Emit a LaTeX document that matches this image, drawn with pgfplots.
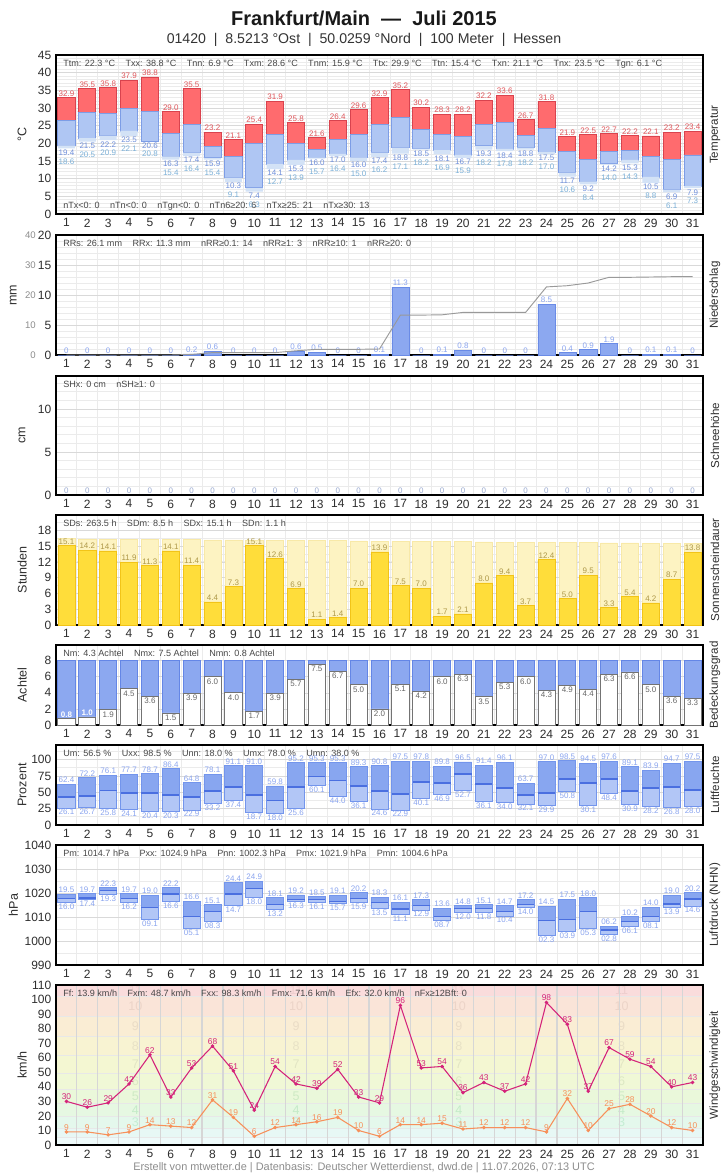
\documentclass[border=0pt]{standalone}
\usepackage{fontspec}
\setmainfont{Liberation Sans}
\usepackage{pgfplots}
\usepackage{pgfplotstable}
\pgfplotsset{compat=1.18}

\definecolor{tred}{HTML}{FF6B6E}
\definecolor{tredb}{HTML}{D9434E}
\definecolor{tblue}{HTML}{AFC6F3}
\definecolor{tblueb}{HTML}{7D9DE6}
\definecolor{tgl}{HTML}{D3E2F6}
\definecolor{txlab}{HTML}{E0565B}
\definecolor{tnlab}{HTML}{6F8FDB}
\definecolor{tglab}{HTML}{7BB0D8}
\definecolor{rrbar}{HTML}{8CA8F0}
\definecolor{rrbord}{HTML}{6A8BE6}
\definecolor{rrlab}{HTML}{8AA4EE}
\definecolor{snlab}{HTML}{9AAAD0}
\definecolor{sunbar}{HTML}{FFDD3A}
\definecolor{sunbord}{HTML}{F2C418}
\definecolor{sunbg}{HTML}{FDF3C2}
\definecolor{sunbgb}{HTML}{F8E9A8}
\definecolor{sunlab}{HTML}{AE9848}
\definecolor{nbar}{HTML}{8CA8F0}
\definecolor{nbord}{HTML}{6486E6}
\definecolor{ulo}{HTML}{B2C6F6}
\definecolor{uhi}{HTML}{88A6F0}
\definecolor{umean}{HTML}{4A6FE0}
\definecolor{ubord}{HTML}{7395EC}
\definecolor{ulab}{HTML}{8AA4EE}
\definecolor{fxc}{HTML}{D4237A}
\definecolor{ffc}{HTML}{F7905A}
\definecolor{bf0}{HTML}{F2FCFC}
\definecolor{bf1}{HTML}{EEFAFA}
\definecolor{bf2}{HTML}{E7F8F5}
\definecolor{bf3}{HTML}{E4F8EC}
\definecolor{bf4}{HTML}{E6F8E2}
\definecolor{bf5}{HTML}{EAF8DA}
\definecolor{bf6}{HTML}{F0F8D6}
\definecolor{bf7}{HTML}{F4F7D2}
\definecolor{bf8}{HTML}{F8F3D2}
\definecolor{bf9}{HTML}{FAEDD4}
\definecolor{bf10}{HTML}{FAE4D8}
\definecolor{bf11}{HTML}{FADCDC}
\definecolor{bn3}{HTML}{C4EDD3}
\definecolor{bn4}{HTML}{C4EBC8}
\definecolor{bn5}{HTML}{CEEAC4}
\definecolor{bn6}{HTML}{DCE8C4}
\definecolor{bn7}{HTML}{E2E5C4}
\definecolor{bn8}{HTML}{E8E2C6}
\definecolor{bn9}{HTML}{EADCC6}
\definecolor{bn10}{HTML}{ECD4C8}
\definecolor{bn11}{HTML}{EECECE}

\pgfplotstableread{
d tx tm tn tg
1 32.9 26.4 19.4 18.6
2 35.5 28.8 21.5 20.5
3 35.8 28.5 22.2 20.9
4 37.9 29.9 23.5 22.1
5 38.8 29.0 20.6 20.8
6 29.0 22.7 16.3 15.4
7 35.5 25.4 17.4 16.4
8 23.2 19.2 15.9 15.4
9 21.1 16.4 10.3 9.1
10 25.4 19.9 7.4 6.3
11 31.9 22.6 14.1 12.7
12 25.8 20.0 15.3 13.9
13 21.6 18.3 16.0 15.7
14 26.4 21.2 17.0 16.4
15 29.6 22.6 16.0 15.0
16 32.9 25.4 17.4 16.2
17 35.2 27.4 18.8 17.1
18 30.2 24.0 18.5 18.2
19 28.3 22.6 18.1 16.9
20 28.2 22.0 16.7 15.9
21 32.2 25.4 19.3 18.2
22 33.6 26.0 18.4 17.8
23 26.7 22.3 18.8 18.2
24 31.8 24.3 17.5 17.0
25 21.9 17.6 11.7 10.6
26 22.5 15.5 9.2 8.4
27 22.7 17.6 14.2 14.0
28 22.2 18.0 15.3 14.3
29 22.1 16.3 10.5 8.8
30 23.2 15.4 6.9 6.1
31 23.4 16.7 7.9 7.3
}\Ttab

\pgfplotstableread{
d rr cum
1 0 0
2 0 0
3 0 0
4 0 0
5 0 0
6 0 0
7 0.2 0.2
8 0.6 0.8
9 0 0.8
10 0 0.8
11 0 0.8
12 0.6 1.4
13 0.5 1.9
14 0 1.9
15 0 1.9
16 0.1 2.0
17 11.3 13.3
18 0 13.3
19 0.1 13.4
20 0.8 14.2
21 0 14.2
22 0 14.2
23 0 14.2
24 8.5 22.7
25 0.4 23.1
26 0.9 24.0
27 1.9 25.9
28 0 25.9
29 0.1 26.0
30 0.1 26.1
31 0 26.1
}\Rtab

\pgfplotstableread{
d s
1 0
2 0
3 0
4 0
5 0
6 0
7 0
8 0
9 0
10 0
11 0
12 0
13 0
14 0
15 0
16 0
17 0
18 0
19 0
20 0
21 0
22 0
23 0
24 0
25 0
26 0
27 0
28 0
29 0
30 0
31 0
}\Stab

\pgfplotstableread{
d sd dl
1 15.1 16.40
2 14.2 16.37
3 14.1 16.34
4 11.9 16.31
5 11.3 16.28
6 14.1 16.25
7 11.4 16.22
8 4.4 16.19
9 7.3 16.16
10 15.1 16.13
11 12.6 16.10
12 6.9 16.07
13 1.1 16.04
14 1.4 16.01
15 7.0 15.98
16 13.9 15.95
17 7.5 15.92
18 7.0 15.89
19 1.7 15.86
20 2.1 15.83
21 8.0 15.80
22 9.4 15.77
23 3.7 15.74
24 12.4 15.71
25 5.0 15.68
26 9.5 15.65
27 3.3 15.62
28 5.4 15.59
29 4.2 15.56
30 8.7 15.53
31 13.8 15.50
}\SDtab

\pgfplotstableread{
d n top
1 0.8 8
2 1.0 8
3 1.9 8
4 4.5 8
5 3.6 8
6 1.5 8
7 3.9 8
8 6.0 8
9 4.0 8
10 1.7 8
11 3.9 8
12 5.7 8
13 7.5 8
14 6.7 8
15 5.0 8
16 2.0 8
17 5.1 8
18 4.2 8
19 6.0 8
20 6.3 8
21 3.5 8
22 5.3 8
23 6.0 8
24 4.3 8
25 4.9 8
26 4.4 8
27 6.3 8
28 6.6 8
29 5.0 8
30 3.6 8
31 3.3 8
}\Ntab

\pgfplotstableread{
d ux un um
1 62.4 26.1 42.9
2 72.2 26.7 44.4
3 76.1 25.8 53.1
4 77.7 24.1 49.0
5 78.7 20.4 49.0
6 86.4 20.3 45.9
7 64.8 22.9 42.9
8 78.1 33.2 52.0
9 91.1 37.4 58.2
10 91.0 18.7 45.9
11 59.8 18.0 38.0
12 95.2 25.6 58.2
13 95.3 60.1 74.5
14 95.3 44.0 68.4
15 89.3 36.1 59.7
16 90.8 24.6 52.0
17 97.5 22.9 47.4
18 97.8 40.1 65.8
19 89.8 46.9 64.3
20 96.5 52.7 78.0
21 91.4 36.1 62.8
22 96.1 34.0 56.6
23 63.7 32.1 45.9
24 97.0 29.9 49.0
25 98.5 50.8 70.4
26 94.5 30.1 64.3
27 97.6 48.4 70.4
28 89.1 30.9 52.0
29 83.9 28.2 56.6
30 94.7 26.8 58.2
31 97.5 28.0 53.6
}\Utab

\pgfplotstableread{
d px pn pm pxl pnl
1 1019.5 1016.0 1017.8 19.5 16.0
2 1019.7 1017.4 1017.9 19.7 17.4
3 1022.3 1019.3 1021.0 22.3 19.3
4 1019.7 1016.2 1017.8 19.7 16.2
5 1019.0 1009.1 1014.0 19.0 09.1
6 1022.2 1016.6 1019.6 22.2 16.6
7 1016.6 1005.1 1010.1 16.6 05.1
8 1015.1 1008.3 1012.3 15.1 08.3
9 1024.4 1014.7 1019.6 24.4 14.7
10 1024.9 1018.0 1021.9 24.9 18.0
11 1018.1 1013.2 1015.3 18.1 13.2
12 1019.2 1016.3 1017.4 19.2 16.3
13 1018.5 1016.1 1017.4 18.5 16.1
14 1019.1 1015.7 1016.5 19.1 15.7
15 1020.2 1015.9 1017.8 20.2 15.9
16 1018.3 1013.5 1016.1 18.3 13.5
17 1016.1 1011.1 1013.3 16.1 11.1
18 1017.3 1012.9 1014.9 17.3 12.9
19 1013.6 1008.7 1010.1 13.6 08.7
20 1014.8 1012.0 1013.7 14.8 12.0
21 1015.1 1011.8 1013.7 15.1 11.8
22 1014.7 1010.4 1012.3 14.7 10.4
23 1017.2 1014.0 1015.3 17.2 14.0
24 1014.5 1002.3 1008.6 14.5 02.3
25 1017.5 1003.9 1009.0 17.5 03.9
26 1018.0 1005.3 1012.3 18.0 05.3
27 1006.2 1002.8 1004.6 06.2 02.8
28 1010.2 1006.1 1008.2 10.2 06.1
29 1014.0 1008.1 1010.3 14.0 08.1
30 1019.0 1013.9 1015.4 19.0 13.9
31 1020.2 1014.6 1017.5 20.2 14.6
}\Ptab

\pgfplotstableread{
d fx ff
1 30 9
2 26 9
3 29 7
4 42 9
5 62 14
6 33 13
7 53 12
8 68 31
9 51 19
10 24 6
11 54 12
12 42 14
13 39 16
14 52 19
15 33 10
16 29 6
17 96 14
18 53 14
19 54 15
20 36 11
21 43 12
22 37 12
23 42 12
24 98 9
25 83 32
26 37 10
27 67 25
28 59 28
29 54 20
30 40 12
31 43 10
}\Wtab

\newcommand\sg{\hspace{7.8pt}}

\pgfplotsset{
  /pgf/number format/assume math mode=true,
  base/.style={scale only axis, width=485.25pt, xmin=0.5, xmax=31.5, clip=false},
  pos/.style 2 args={at={(42pt,-#1)}, anchor=north west, height=#2},
  panel/.style={base,
    xtick={1,...,31}, minor xtick={1.5,2.5,...,30.5},
    xminorgrids=true, ymajorgrids=true,
    major tick length=0pt, minor tick length=0pt,
    axis line style={line width=0.8pt},
    major grid style={draw=black!15, line width=0.5pt},
    minor grid style={draw=black!8, line width=0.6pt},
    tick label style={font=\fontsize{9}{10}\selectfont, text=black!82},
  },
  ovl/.style={base, hide axis},
}
\tikzset{
  stat/.style={anchor=north west, font=\fontsize{6.8}{7.5}\selectfont, text=black!72, inner sep=0pt, xshift=5.3pt, yshift=-3.8pt},
  lab/.style={font=\fontsize{6}{7}\selectfont, inner sep=0.8pt},
  yl/.style={rotate=90, font=\fontsize{9.4}{10}\selectfont, text=black!82},
  yr/.style={rotate=90, font=\fontsize{8.7}{10}\selectfont, text=black!82},
  bfn/.style={font=\fontsize{9.4}{10}\selectfont},
  sec/.style={anchor=east, font=\fontsize{7.2}{8}\selectfont, text=black!45, inner sep=0pt, xshift=-15pt},
}

\begin{document}
\begin{tikzpicture}
\path[use as bounding box] (0,0) rectangle (546pt,-881.25pt);

% ---------------- Temperature
\begin{axis}[panel, pos={41.25pt}{119.25pt}, ymin=0, ymax=45, ytick={0,5,...,45},
  minor ytick={0,1,...,45}, yminorgrids=true, ybar stacked, bar width=0.82]
\addplot[draw=none, fill=none] table[x=d, y expr={min(\thisrow{tn},\thisrow{tg})}]{\Ttab};
\addplot[draw=none, fill=tgl] table[x=d, y expr={\thisrow{tn}-min(\thisrow{tn},\thisrow{tg})}]{\Ttab};
\addplot[draw=tblueb, fill=tblue, line width=0.6pt] table[x=d, y expr={\thisrow{tm}-\thisrow{tn}}]{\Ttab};
\addplot[draw=tredb, fill=tred, line width=0.6pt] table[x=d, y expr={\thisrow{tx}-\thisrow{tm}}]{\Ttab};
\end{axis}
\begin{axis}[ovl, pos={41.25pt}{119.25pt}, ymin=0, ymax=45]
\addplot[draw=none, mark=none, nodes near coords, point meta=explicit symbolic,
  nodes near coords style={lab, text=txlab, anchor=south}] table[x=d, y=tx, meta=tx]{\Ttab};
\addplot[draw=none, mark=none, nodes near coords, point meta=explicit symbolic,
  nodes near coords style={lab, text=tnlab, anchor=north}] table[x=d, y expr={min(\thisrow{tn},\thisrow{tg})}, meta=tn]{\Ttab};
\addplot[draw=none, mark=none, nodes near coords, point meta=explicit symbolic,
  nodes near coords style={lab, text=tglab, anchor=north, yshift=-6.6pt}] table[x=d, y expr={min(\thisrow{tn},\thisrow{tg})}, meta=tg]{\Ttab};
\node[stat] at (rel axis cs:0,1) {Ttm: 22.3 °C\sg Txx: 38.8 °C\sg Tnn: 6.9 °C\sg Txm: 28.6 °C\sg Tnm: 15.9 °C\sg Ttx: 29.9 °C\sg Ttn: 15.4 °C\sg Txn: 21.1 °C\sg Tnx: 23.5 °C\sg Tgn: 6.1 °C};
\node[stat, anchor=south west, yshift=6.3pt] at (rel axis cs:0,0) {nTx<0: 0\sg nTn<0: 0\sg nTgn<0: 0\sg nTn6≥20: 6\sg nTx≥25: 21\sg nTx≥30: 13};
\node[yl] at (rel axis cs:-0.0525,0.5) {°C};
\node[yr] at (rel axis cs:1.0185,0.5) {Temperatur};
\end{axis}

% ---------------- Precipitation
\begin{axis}[panel, pos={176.25pt}{90pt}, ymin=0, ymax=20, ytick={0,5,...,20},
  minor ytick={0,1,...,20}, yminorgrids=true, ybar, bar width=0.82, bar shift=0pt]
\addplot[draw=rrbord, fill=rrbar, nodes near coords, point meta=explicit symbolic,
  nodes near coords style={lab, text=rrlab, anchor=south}] table[x=d, y=rr, meta=rr]{\Rtab};
\end{axis}
\begin{axis}[ovl, pos={176.25pt}{90pt}, ymin=0, ymax=40]
\addplot[draw=black!40, line width=0.7pt, mark=none] table[x=d, y=cum]{\Rtab};
\node[sec] at (rel axis cs:0,0) {0};
\node[sec] at (rel axis cs:0,0.25) {10};
\node[sec] at (rel axis cs:0,0.5) {20};
\node[sec] at (rel axis cs:0,0.75) {30};
\node[sec] at (rel axis cs:0,1) {40};
\node[stat] at (rel axis cs:0,1) {RRs: 26.1 mm\sg RRx: 11.3 mm\sg nRR≥0.1: 14\sg nRR≥1: 3\sg nRR≥10: 1\sg nRR≥20: 0};
\node[yl] at (rel axis cs:-0.066,0.5) {mm};
\node[yr] at (rel axis cs:1.0185,0.5) {Niederschlag};
\end{axis}

% ---------------- Snow
\begin{axis}[panel, pos={282pt}{89.25pt}, ymin=0, ymax=13.84, ytick={0,5,10},
  minor ytick={0,1,...,13}, yminorgrids=true]
\addplot[draw=none, mark=none, nodes near coords, point meta=explicit symbolic,
  nodes near coords style={lab, text=snlab, anchor=south}] table[x=d, y=s, meta=s]{\Stab};
\node[stat] at (rel axis cs:0,1) {SHx: 0 cm\sg nSH≥1: 0};
\node[yl] at (rel axis cs:-0.0525,0.5) {cm};
\node[yr] at (rel axis cs:1.0185,0.5) {Schneehöhe};
\end{axis}

% ---------------- Sunshine
\begin{axis}[panel, pos={386.25pt}{82.5pt}, ymin=0, ymax=20.9, ytick={0,3,...,18},
  minor ytick={0,1.5,...,19.5}, yminorgrids=true, ybar, bar width=0.82, bar shift=0pt]
\addplot[draw=sunbgb, fill=sunbg, line width=0.4pt] table[x=d, y=dl]{\SDtab};
\addplot[draw=sunbord, fill=sunbar, nodes near coords, point meta=explicit symbolic,
  nodes near coords style={lab, text=sunlab, anchor=south}] table[x=d, y=sd, meta=sd]{\SDtab};
\node[stat] at (rel axis cs:0,1) {SDs: 263.5 h\sg SDm: 8.5 h\sg SDx: 15.1 h\sg SDn: 1.1 h};
\node[yl] at (rel axis cs:-0.0525,0.5) {Stunden};
\node[yr] at (rel axis cs:1.0185,0.5) {Sonnenscheindauer};
\end{axis}

% ---------------- Cloud cover
\begin{axis}[panel, pos={483.75pt}{60pt}, ymin=0, ymax=9.95, ytick={0,2,...,8},
  ybar, bar width=0.82, bar shift=0pt]
\addplot[draw=nbord, fill=nbar, line width=0.6pt] table[x=d, y=top]{\Ntab};
\addplot[draw=black!55, fill=white, line width=0.6pt] table[x=d, y=n]{\Ntab};
\end{axis}
\begin{axis}[ovl, pos={483.75pt}{60pt}, ymin=0, ymax=9.95]
\addplot[draw=none, mark=none, nodes near coords, point meta=explicit symbolic, restrict x to domain=3:31,
  nodes near coords style={lab, text=black!60, anchor=north, yshift=-0.3pt}] table[x=d, y=n, meta=n]{\Ntab};
\addplot[draw=none, mark=none, nodes near coords, point meta=explicit symbolic, restrict x to domain=1:2,
  nodes near coords style={lab, text=white, anchor=south, font=\fontsize{6}{7}\selectfont\bfseries}] table[x=d, y=n, meta=n]{\Ntab};
\node[stat] at (rel axis cs:0,1) {Nm: 4.3 Achtel\sg Nmx: 7.5 Achtel\sg Nmn: 0.8 Achtel};
\node[yl] at (rel axis cs:-0.0525,0.5) {Achtel};
\node[yr] at (rel axis cs:1.0185,0.5) {Bedeckungsgrad};
\end{axis}

% ---------------- Humidity
\begin{axis}[panel, pos={558.75pt}{60pt}, ymin=0, ymax=122.5, ytick={0,25,...,100},
  minor ytick={0,12.5,...,112.5}, yminorgrids=true, ybar stacked, bar width=0.82]
\addplot[draw=none, fill=none] table[x=d, y=un]{\Utab};
\addplot[draw=ubord, fill=ulo, line width=0.6pt] table[x=d, y expr={\thisrow{um}-\thisrow{un}}]{\Utab};
\addplot[draw=ubord, fill=uhi, line width=0.6pt] table[x=d, y expr={\thisrow{ux}-\thisrow{um}}]{\Utab};
\end{axis}
\begin{axis}[ovl, pos={558.75pt}{60pt}, ymin=0, ymax=122.5]
\addplot[only marks, mark=-, mark size=6.4pt, mark options={draw=umean, line width=0.9pt}] table[x=d, y=um]{\Utab};
\addplot[draw=none, mark=none, nodes near coords, point meta=explicit symbolic,
  nodes near coords style={lab, text=ulab, anchor=south}] table[x=d, y=ux, meta=ux]{\Utab};
\addplot[draw=none, mark=none, nodes near coords, point meta=explicit symbolic,
  nodes near coords style={lab, text=ulab, anchor=north}] table[x=d, y=un, meta=un]{\Utab};
\node[stat] at (rel axis cs:0,1) {Um: 56.5 \%\sg Uxx: 98.5 \%\sg Unn: 18.0 \%\sg Umx: 78.0 \%\sg Umn: 38.0 \%};
\node[yl] at (rel axis cs:-0.0525,0.5) {Prozent};
\node[yr] at (rel axis cs:1.0185,0.5) {Luftfeuchte};
\end{axis}

% ---------------- Pressure
\begin{axis}[panel, pos={633.75pt}{90pt}, ymin=990, ymax=1040, ytick={990,1000,...,1040},
  minor ytick={990,995,...,1040}, yminorgrids=true, ybar stacked, bar width=0.82,
  /pgf/number format/1000 sep={}]
\addplot[draw=none, fill=none] table[x=d, y=pn]{\Ptab};
\addplot[draw=ubord, fill=ulo, line width=0.6pt] table[x=d, y expr={\thisrow{pm}-\thisrow{pn}}]{\Ptab};
\addplot[draw=ubord, fill=uhi, line width=0.6pt] table[x=d, y expr={\thisrow{px}-\thisrow{pm}}]{\Ptab};
\end{axis}
\begin{axis}[ovl, pos={633.75pt}{90pt}, ymin=990, ymax=1040]
\addplot[only marks, mark=-, mark size=6.4pt, mark options={draw=umean, line width=0.9pt}] table[x=d, y=pm]{\Ptab};
\addplot[draw=none, mark=none, nodes near coords, point meta=explicit symbolic,
  nodes near coords style={lab, text=ulab, anchor=south}] table[x=d, y=px, meta=pxl]{\Ptab};
\addplot[draw=none, mark=none, nodes near coords, point meta=explicit symbolic,
  nodes near coords style={lab, text=ulab, anchor=north}] table[x=d, y=pn, meta=pnl]{\Ptab};
\node[stat] at (rel axis cs:0,1) {Pm: 1014.7 hPa\sg Pxx: 1024.9 hPa\sg Pnn: 1002.3 hPa\sg Pmx: 1021.9 hPa\sg Pmn: 1004.6 hPa};
\node[yl] at (rel axis cs:-0.066,0.5) {hPa};
\node[yr] at (rel axis cs:1.0185,0.5) {Luftdruck (NHN)};
\end{axis}

% ---------------- Wind
\begin{axis}[ovl, pos={738.75pt}{120pt}, ymin=0, ymax=110]
\addplot[draw=none, fill=bf0] coordinates {(0.5,0) (31.5,0) (31.5,0.5) (0.5,0.5)} -- cycle;
\addplot[draw=black!9, fill=bf1] coordinates {(0.5,0.5) (31.5,0.5) (31.5,5.5) (0.5,5.5)} -- cycle;
\addplot[draw=black!9, fill=bf2] coordinates {(0.5,5.5) (31.5,5.5) (31.5,11.5) (0.5,11.5)} -- cycle;
\addplot[draw=black!9, fill=bf3] coordinates {(0.5,11.5) (31.5,11.5) (31.5,19.5) (0.5,19.5)} -- cycle;
\addplot[draw=black!9, fill=bf4] coordinates {(0.5,19.5) (31.5,19.5) (31.5,28.5) (0.5,28.5)} -- cycle;
\addplot[draw=black!9, fill=bf5] coordinates {(0.5,28.5) (31.5,28.5) (31.5,38.5) (0.5,38.5)} -- cycle;
\addplot[draw=black!9, fill=bf6] coordinates {(0.5,38.5) (31.5,38.5) (31.5,49.5) (0.5,49.5)} -- cycle;
\addplot[draw=black!9, fill=bf7] coordinates {(0.5,49.5) (31.5,49.5) (31.5,61.5) (0.5,61.5)} -- cycle;
\addplot[draw=black!9, fill=bf8] coordinates {(0.5,61.5) (31.5,61.5) (31.5,74.5) (0.5,74.5)} -- cycle;
\addplot[draw=black!9, fill=bf9] coordinates {(0.5,74.5) (31.5,74.5) (31.5,88.5) (0.5,88.5)} -- cycle;
\addplot[draw=black!9, fill=bf10] coordinates {(0.5,88.5) (31.5,88.5) (31.5,102.5) (0.5,102.5)} -- cycle;
\addplot[draw=none, fill=bf11] coordinates {(0.5,102.5) (31.5,102.5) (31.5,110) (0.5,110)} -- cycle;
\pgfplotsinvokeforeach{4.3,12.0,19.8,27.6}{
  \node[bfn, text=bn3] at (axis cs:#1,15.5) {3};
  \node[bfn, text=bn4] at (axis cs:#1,24) {4};
  \node[bfn, text=bn5] at (axis cs:#1,33.5) {5};
  \node[bfn, text=bn6] at (axis cs:#1,44) {6};
  \node[bfn, text=bn7] at (axis cs:#1,55.5) {7};
  \node[bfn, text=bn8] at (axis cs:#1,68) {8};
  \node[bfn, text=bn9] at (axis cs:#1,81.5) {9};
  \node[bfn, text=bn10] at (axis cs:#1,95.5) {10};
  \node[bfn, text=bn11] at (axis cs:#1,106.3) {11};
}
\end{axis}
\begin{axis}[panel, pos={738.75pt}{120pt}, ymin=0, ymax=110, ytick={0,10,...,110},
  ymajorgrids=false, minor grid style={draw=black!16, line width=0.9pt}]
\addplot[ffc, line width=0.8pt, mark=*, mark size=0.9pt, nodes near coords, point meta=explicit symbolic,
  nodes near coords style={lab, text=ffc, anchor=south, font=\fontsize{6.3}{7}\selectfont}] table[x=d, y=ff, meta=ff]{\Wtab};
\addplot[fxc, line width=0.8pt, mark=*, mark size=0.9pt, nodes near coords, point meta=explicit symbolic,
  nodes near coords style={lab, text=fxc, anchor=south, font=\fontsize{6.3}{7}\selectfont}] table[x=d, y=fx, meta=fx]{\Wtab};
\node[stat] at (rel axis cs:0,1) {Ff: 13.9 km/h\sg Fxm: 48.7 km/h\sg Fxx: 98.3 km/h\sg Fmx: 71.6 km/h\sg Efx: 32.0 km/h\sg nFx≥12Bft: 0};
\node[yl] at (rel axis cs:-0.0525,0.5) {km/h};
\node[yr] at (rel axis cs:1.0185,0.5) {Windgeschwindigkeit};
\end{axis}

% ---------------- Titles
\node[font=\fontsize{15}{18}\selectfont\bfseries, text=black!90] at (273pt,-13.5pt) {Frankfurt/Main~~—~~Juli 2015};
\node[font=\fontsize{10.6}{13}\selectfont, text=black!80] at (273pt,-30pt) {01420~~|~~8.5213 °Ost~~|~~50.0259 °Nord~~|~~100 Meter~~|~~Hessen};
\node[font=\fontsize{8.2}{9}\selectfont, text=black!45] at (273pt,-875.5pt) {Erstellt von mtwetter.de | Datenbasis: Deutscher Wetterdienst, dwd.de | 11.07.2026, 07:13 UTC};
\end{tikzpicture}
\end{document}
